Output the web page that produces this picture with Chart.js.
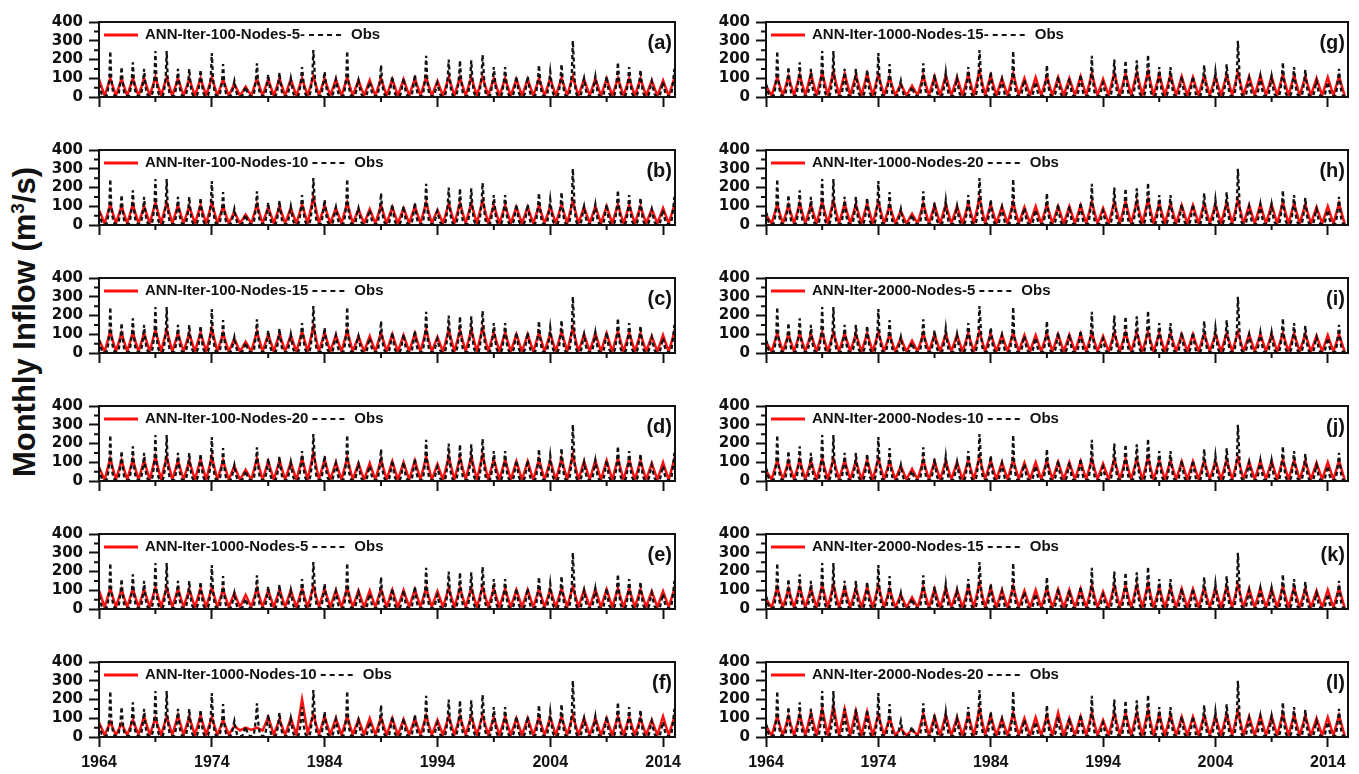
<!DOCTYPE html>
<html>
<head>
<meta charset="utf-8">
<script src="https://cdn.jsdelivr.net/npm/chart.js@4.4.1/dist/chart.umd.min.js"></script>
<style>
  html, body { margin: 0; padding: 0; background: #fff; }
  #page { position: relative; width: 1359px; height: 774px; overflow: hidden; }
  .panel { position: absolute; }
  #ytitle {
    position: absolute; left: 25px; top: 322px;
    transform: translate(-50%, -50%) rotate(-90deg);
    font: bold 31px "Liberation Sans", Arial, sans-serif;
    white-space: nowrap; color: #111;
  }
  #ytitle sup { font-size: 19px; }
</style>
</head>
<body>
<div id="page">
  <div id="ytitle">Monthly Inflow (m<sup>3</sup>/s)</div>
</div>
<script>
// tick labels / axis values
const tickYears = [1964, 1974, 1984, 1994, 2004, 2014];
const minorTickYears = [1969, 1979, 1989, 1999, 2009];
const minorTickFlows = [50, 150, 250, 350];

// observed monthly inflow, Jan 1964 .. Oct 2015 (one row per year)
const obsFlow = [
  70, 55, 30, 14, 8, 5, 4, 4, 7, 20, 55, 105,
  245, 110, 55, 25, 12, 7, 5, 5, 8, 22, 50, 90,
  160, 95, 45, 20, 10, 6, 5, 5, 9, 25, 60, 100,
  185, 100, 50, 22, 11, 6, 5, 5, 8, 20, 48, 88,
  150, 85, 42, 18, 9, 6, 4, 4, 8, 24, 62, 110,
  245, 115, 55, 24, 12, 7, 5, 5, 9, 26, 64, 112,
  245, 110, 52, 22, 11, 6, 5, 5, 8, 20, 48, 88,
  150, 90, 45, 20, 10, 6, 5, 5, 8, 20, 46, 86,
  150, 88, 44, 20, 10, 6, 4, 4, 8, 20, 46, 85,
  145, 95, 48, 22, 10, 6, 5, 5, 9, 26, 65, 115,
  235, 125, 60, 26, 12, 7, 5, 5, 8, 24, 55, 98,
  175, 95, 46, 20, 10, 6, 4, 4, 7, 16, 36, 62,
  85, 55, 30, 14, 8, 5, 4, 4, 6, 12, 26, 42,
  55, 38, 22, 12, 7, 5, 4, 4, 7, 22, 58, 100,
  180, 100, 48, 22, 10, 6, 5, 5, 8, 20, 45, 80,
  120, 80, 40, 18, 9, 5, 4, 4, 8, 20, 48, 84,
  130, 82, 42, 19, 9, 6, 4, 4, 7, 18, 40, 72,
  100, 70, 36, 16, 8, 5, 4, 4, 8, 22, 55, 96,
  160, 110, 55, 24, 11, 6, 5, 5, 9, 28, 70, 120,
  250, 170, 80, 32, 14, 8, 5, 5, 8, 22, 52, 95,
  135, 90, 45, 20, 10, 6, 4, 4, 7, 18, 42, 74,
  95, 65, 34, 16, 8, 5, 4, 4, 8, 24, 62, 110,
  245, 105, 50, 22, 10, 6, 4, 4, 7, 18, 42, 72,
  90, 62, 32, 15, 8, 5, 4, 4, 7, 16, 38, 66,
  80, 58, 30, 14, 7, 5, 4, 4, 8, 22, 55, 96,
  170, 98, 48, 21, 10, 6, 4, 4, 7, 18, 44, 78,
  110, 72, 36, 16, 8, 5, 4, 4, 7, 18, 42, 74,
  100, 68, 34, 16, 8, 5, 4, 4, 7, 18, 44, 80,
  120, 80, 40, 18, 9, 5, 4, 4, 8, 24, 62, 112,
  220, 110, 52, 22, 10, 6, 4, 4, 7, 16, 36, 62,
  75, 52, 28, 14, 7, 5, 4, 4, 8, 24, 62, 108,
  200, 115, 55, 24, 11, 6, 5, 5, 9, 26, 64, 110,
  195, 112, 54, 23, 11, 6, 5, 5, 9, 26, 64, 110,
  195, 112, 54, 23, 11, 6, 5, 5, 9, 28, 70, 118,
  225, 150, 70, 28, 12, 7, 5, 5, 9, 24, 58, 100,
  160, 105, 50, 22, 10, 6, 4, 4, 8, 24, 58, 100,
  160, 100, 48, 21, 10, 6, 4, 4, 7, 18, 44, 80,
  110, 75, 38, 17, 8, 5, 4, 4, 7, 18, 44, 80,
  110, 76, 38, 17, 8, 5, 4, 4, 8, 22, 56, 98,
  170, 105, 50, 22, 10, 6, 4, 4, 8, 20, 50, 88,
  135, 90, 45, 20, 9, 5, 4, 4, 8, 22, 56, 98,
  175, 110, 52, 22, 10, 6, 5, 5, 9, 30, 75, 130,
  300, 200, 90, 35, 14, 8, 5, 5, 8, 18, 44, 78,
  100, 70, 36, 16, 8, 5, 4, 4, 7, 18, 44, 80,
  110, 74, 37, 17, 8, 5, 4, 4, 7, 18, 44, 80,
  110, 74, 37, 17, 8, 5, 4, 4, 8, 24, 60, 104,
  185, 110, 52, 22, 10, 6, 4, 4, 8, 22, 56, 98,
  160, 100, 48, 21, 10, 6, 4, 4, 8, 22, 54, 94,
  145, 92, 45, 20, 9, 5, 4, 4, 7, 16, 38, 66,
  85, 60, 32, 15, 7, 5, 4, 4, 7, 16, 36, 62,
  80, 56, 30, 14, 7, 5, 4, 4, 8, 22, 56, 98,
  150, 92, 45, 20, 9, 5, 4, 4, 7, 16
];

// simulated inflow: annual peak (Jan) and low (Jul), 1964 .. 2015
const simIter100Nodes5 = [
  95,6, 100,6, 98,6, 100,6, 100,7, 105,7, 105,6, 100,6, 98,6, 100,7,
  105,6, 95,6, 70,6, 55,6, 100,6, 95,6, 100,6, 95,6, 100,7, 110,7,
  100,6, 95,6, 105,6, 90,6, 90,6, 100,6, 95,6, 95,6, 100,7, 105,6,
  85,6, 105,7, 105,7, 105,7, 108,7, 100,6, 100,6, 95,6, 95,6, 100,6,
  100,6, 102,7, 110,6, 95,6, 98,6, 98,6, 100,6, 100,6, 98,6, 88,6,
  88,6, 100,6
];
const simIter100Nodes10 = [
  80,8, 110,8, 100,8, 110,8, 100,8, 120,9, 120,8, 105,8, 100,8, 105,8,
  120,8, 100,8, 70,8, 55,8, 110,8, 95,8, 100,8, 90,8, 110,9, 150,9,
  105,8, 90,8, 120,8, 85,8, 85,8, 105,8, 95,8, 90,8, 100,8, 120,8,
  80,8, 115,9, 115,9, 115,9, 130,9, 105,8, 105,8, 95,8, 95,8, 105,8,
  100,8, 110,8, 130,8, 95,8, 100,8, 100,8, 110,8, 105,8, 100,8, 85,8,
  90,8, 105,8
];
const simIter100Nodes15 = [
  70,7, 115,7, 105,7, 110,7, 105,7, 125,8, 125,7, 105,7, 105,7, 110,7,
  130,7, 105,7, 75,7, 60,7, 115,7, 100,7, 105,7, 95,7, 115,8, 140,8,
  110,7, 95,7, 120,7, 90,7, 90,7, 110,7, 100,7, 95,7, 105,7, 125,7,
  85,7, 125,8, 120,8, 125,8, 135,8, 110,7, 110,7, 100,7, 100,7, 110,7,
  105,7, 115,7, 135,7, 100,7, 105,7, 105,7, 115,7, 110,7, 105,7, 90,7,
  95,7, 110,7
];
const simIter100Nodes20 = [
  75,6, 120,6, 110,6, 115,6, 110,6, 130,7, 130,6, 110,6, 110,6, 115,6,
  130,6, 110,6, 80,6, 60,6, 120,6, 105,6, 110,6, 100,6, 120,7, 150,7,
  115,6, 100,6, 125,6, 95,6, 95,6, 115,6, 105,6, 100,6, 110,6, 130,6,
  90,6, 130,7, 125,7, 130,7, 140,7, 115,6, 115,6, 105,6, 105,6, 115,6,
  110,6, 120,6, 140,6, 105,6, 110,6, 110,6, 120,6, 115,6, 110,6, 95,6,
  100,6, 115,6
];
const simIter1000Nodes5 = [
  100,10, 110,10, 105,10, 108,10, 105,10, 115,11, 115,10, 108,10, 105,10, 108,10,
  115,10, 105,10, 85,10, 75,10, 110,10, 100,10, 105,10, 100,10, 108,10, 120,11,
  108,10, 100,10, 112,10, 98,10, 98,10, 108,10, 102,10, 100,10, 105,10, 112,10,
  95,10, 112,10, 112,10, 112,10, 118,11, 108,10, 108,10, 102,10, 102,10, 108,10,
  105,10, 110,10, 120,10, 102,10, 105,10, 105,10, 110,10, 108,10, 105,10, 95,10,
  95,10, 105,10
];
const simIter1000Nodes10 = [
  77,10, 80,10, 72,10, 90,12, 110,12, 100,10, 110,10, 115,10, 108,10, 115,12,
  105,10, 90,12, 60,35, 50,38, 50,35, 105,12, 95,10, 100,12, 200,20, 120,12,
  110,12, 100,10, 110,12, 95,12, 100,12, 105,10, 100,10, 95,10, 100,10, 115,10,
  90,10, 110,12, 110,12, 112,12, 115,12, 105,10, 108,10, 100,10, 100,10, 105,10,
  105,10, 110,10, 115,10, 100,10, 100,10, 100,10, 110,12, 105,10, 100,10, 90,10,
  110,10, 105,10
];
const simIter1000Nodes15 = [
  60,8, 105,8, 110,8, 120,8, 125,8, 130,9, 135,8, 125,8, 120,8, 125,8,
  120,8, 105,8, 70,8, 60,8, 115,8, 110,8, 115,8, 105,8, 120,9, 140,9,
  115,8, 100,8, 125,8, 100,8, 105,8, 110,8, 105,8, 100,8, 110,8, 125,8,
  95,8, 130,9, 125,9, 130,9, 135,9, 120,8, 120,8, 110,8, 105,8, 115,8,
  110,8, 120,8, 130,8, 110,8, 115,8, 110,8, 120,8, 115,8, 110,8, 100,8,
  105,8, 110,8
];
const simIter1000Nodes20 = [
  55,7, 110,7, 105,7, 115,7, 110,7, 125,8, 130,7, 115,7, 110,7, 115,7,
  125,7, 105,7, 75,7, 60,7, 115,7, 105,7, 110,7, 100,7, 115,8, 145,8,
  110,7, 100,7, 120,7, 95,7, 100,7, 110,7, 100,7, 100,7, 105,7, 125,7,
  90,7, 125,8, 125,8, 125,8, 135,8, 115,7, 115,7, 105,7, 105,7, 115,7,
  110,7, 120,7, 135,7, 105,7, 110,7, 110,7, 120,7, 115,7, 110,7, 95,7,
  100,7, 115,7
];
const simIter2000Nodes5 = [
  60,7, 105,7, 100,7, 105,7, 102,7, 110,7, 110,7, 105,7, 102,7, 105,7,
  110,7, 100,7, 80,7, 65,7, 105,7, 100,7, 102,7, 98,7, 105,7, 115,7,
  105,7, 98,7, 108,7, 95,7, 95,7, 105,7, 100,7, 98,7, 102,7, 108,7,
  90,7, 108,7, 108,7, 108,7, 112,7, 105,7, 105,7, 100,7, 100,7, 105,7,
  102,7, 106,7, 112,7, 100,7, 102,7, 102,7, 105,7, 104,7, 102,7, 92,7,
  95,7, 100,7
];
const simIter2000Nodes10 = [
  55,8, 110,8, 105,8, 112,8, 108,8, 118,8, 120,8, 110,8, 108,8, 112,8,
  120,8, 105,8, 80,8, 65,8, 112,8, 105,8, 108,8, 100,8, 112,8, 130,8,
  110,8, 100,8, 115,8, 98,8, 100,8, 110,8, 102,8, 100,8, 105,8, 118,8,
  92,8, 118,8, 118,8, 118,8, 125,8, 110,8, 110,8, 104,8, 104,8, 110,8,
  108,8, 114,8, 125,8, 104,8, 108,8, 108,8, 115,8, 112,8, 108,8, 96,8,
  100,8, 108,8
];
const simIter2000Nodes15 = [
  55,7, 115,7, 108,7, 118,7, 112,7, 128,8, 130,7, 115,7, 112,7, 118,7,
  128,7, 108,7, 78,7, 62,7, 118,7, 108,7, 112,7, 102,7, 118,8, 140,8,
  115,7, 102,7, 122,7, 98,7, 102,7, 112,7, 105,7, 102,7, 108,7, 125,7,
  92,7, 128,8, 125,8, 128,8, 135,8, 115,7, 115,7, 108,7, 106,7, 115,7,
  112,7, 120,7, 132,7, 108,7, 112,7, 110,7, 120,7, 116,7, 110,7, 98,7,
  102,7, 112,7
];
const simIter2000Nodes20 = [
  60,8, 110,8, 110,8, 120,8, 130,8, 150,10, 165,10, 150,10, 140,8, 135,8,
  120,8, 100,8, 45,8, 40,8, 125,8, 110,8, 120,8, 105,8, 120,8, 150,10,
  115,8, 100,8, 130,8, 100,8, 105,8, 115,8, 130,8, 100,8, 110,8, 130,8,
  90,8, 130,8, 130,8, 130,8, 140,8, 120,8, 118,8, 108,8, 108,8, 118,8,
  112,8, 125,8, 140,8, 110,8, 115,8, 112,8, 125,8, 120,8, 115,8, 100,8,
  105,8, 115,8
];

const panels = [
  { letter: 'a', label: 'ANN-Iter-100-Nodes-5-', sim: simIter100Nodes5, col: 0, row: 0 },
  { letter: 'b', label: 'ANN-Iter-100-Nodes-10', sim: simIter100Nodes10, col: 0, row: 1 },
  { letter: 'c', label: 'ANN-Iter-100-Nodes-15', sim: simIter100Nodes15, col: 0, row: 2 },
  { letter: 'd', label: 'ANN-Iter-100-Nodes-20', sim: simIter100Nodes20, col: 0, row: 3 },
  { letter: 'e', label: 'ANN-Iter-1000-Nodes-5', sim: simIter1000Nodes5, col: 0, row: 4 },
  { letter: 'f', label: 'ANN-Iter-1000-Nodes-10', sim: simIter1000Nodes10, col: 0, row: 5 },
  { letter: 'g', label: 'ANN-Iter-1000-Nodes-15-', sim: simIter1000Nodes15, col: 1, row: 0 },
  { letter: 'h', label: 'ANN-Iter-1000-Nodes-20', sim: simIter1000Nodes20, col: 1, row: 1 },
  { letter: 'i', label: 'ANN-Iter-2000-Nodes-5', sim: simIter2000Nodes5, col: 1, row: 2 },
  { letter: 'j', label: 'ANN-Iter-2000-Nodes-10', sim: simIter2000Nodes10, col: 1, row: 3 },
  { letter: 'k', label: 'ANN-Iter-2000-Nodes-15', sim: simIter2000Nodes15, col: 1, row: 4 },
  { letter: 'l', label: 'ANN-Iter-2000-Nodes-20', sim: simIter2000Nodes20, col: 1, row: 5 }
];

const colLeft = [40, 707];
const colWidth = [655, 661];
const colMaxYear = [2015.06, 2015.8];
const rowTop = [7, 135, 263, 391, 519, 647];
const simColor = '#ff1010';
const inkColor = '#111';
const arialBold = '"Liberation Sans", Arial, sans-serif';

const obsPoints = obsFlow.map((v, i) => ({ x: 1964 + i / 12, y: v }));
function simPoints(arr) {
    return arr.map((v, i) => ({ x: 1964 + i / 2, y: v }));
}

// frame, minor ticks, in-plot legend and panel letter
const panelDecor = {
    id: 'panelDecor',
    afterDraw(chart, args, opts) {
        const ctx = chart.ctx;
        const a = chart.chartArea;
        const x = chart.scales.x;
        const y = chart.scales.y;
        ctx.save();
        ctx.strokeStyle = inkColor;
        ctx.lineWidth = 2;
        ctx.beginPath();
        minorTickFlows.forEach(v => {
            const py = y.getPixelForValue(v);
            ctx.moveTo(a.left - 5, py);
            ctx.lineTo(a.left, py);
        });
        minorTickYears.forEach(v => {
            const px = x.getPixelForValue(v);
            ctx.moveTo(px, a.bottom);
            ctx.lineTo(px, a.bottom + 5);
        });
        ctx.stroke();
        ctx.strokeRect(a.left, a.top, a.right - a.left, a.bottom - a.top);

        // legend
        const ly = a.top + 13;
        const simLabel = chart.data.datasets[1].label;
        ctx.font = 'bold 15px ' + arialBold;
        ctx.textBaseline = 'middle';
        ctx.fillStyle = inkColor;
        ctx.strokeStyle = simColor;
        ctx.lineWidth = 3;
        ctx.beginPath();
        ctx.moveTo(a.left + 5, ly);
        ctx.lineTo(a.left + 39, ly);
        ctx.stroke();
        let tx = a.left + 46;
        ctx.fillText(simLabel, tx, ly);
        tx += ctx.measureText(simLabel).width + 4;
        ctx.setLineDash([5, 4]);
        ctx.strokeStyle = inkColor;
        ctx.lineWidth = 2;
        ctx.beginPath();
        ctx.moveTo(tx, ly);
        ctx.lineTo(tx + 36, ly);
        ctx.stroke();
        ctx.setLineDash([]);
        ctx.fillText(chart.data.datasets[0].label, tx + 42, ly);

        ctx.font = 'bold 20px ' + arialBold;
        ctx.textAlign = 'right';
        ctx.fillText('(' + opts.letter + ')', a.right - 3, a.top + 21);
        ctx.restore();
    }
};

const page = document.getElementById('page');

panels.forEach(p => {
    const box = document.createElement('div');
    box.className = 'panel';
    box.style.left = colLeft[p.col] + 'px';
    box.style.top = rowTop[p.row] + 'px';
    box.style.width = colWidth[p.col] + 'px';
    box.style.height = '127px';
    const canvas = document.createElement('canvas');
    box.appendChild(canvas);
    page.appendChild(box);

    const showYears = p.row === 5;

    new Chart(canvas.getContext('2d'), {
        type: 'line',
        data: {
            datasets: [{
                label: 'Obs',
                data: obsPoints,
                borderColor: inkColor,
                borderWidth: 2.3,
                borderDash: [4, 3],
                pointRadius: 0,
                tension: 0,
                order: 0
            }, {
                label: p.label,
                data: simPoints(p.sim),
                borderColor: simColor,
                borderWidth: 2.5,
                pointRadius: 0,
                tension: 0,
                order: 1
            }]
        },
        options: {
            responsive: true,
            maintainAspectRatio: false,
            animation: false,
            events: [],
            layout: { padding: { top: 10, right: 20, left: 0, bottom: 0 } },
            plugins: {
                legend: { display: false },
                tooltip: { enabled: false },
                panelDecor: { letter: p.letter }
            },
            scales: {
                x: {
                    type: 'linear',
                    min: 1964,
                    max: colMaxYear[p.col],
                    afterBuildTicks: s => { s.ticks = tickYears.map(v => ({ value: v })); },
                    afterFit: s => { s.height = 37; },
                    border: { display: false },
                    grid: { drawOnChartArea: false, tickLength: 10, tickWidth: 2, tickColor: inkColor },
                    ticks: {
                        autoSkip: false,
                        maxRotation: 0,
                        padding: 6,
                        color: inkColor,
                        font: { family: arialBold, size: 16, weight: 'bold' },
                        callback: v => showYears ? String(v) : ''
                    }
                },
                y: {
                    min: 0,
                    max: 400,
                    afterFit: s => { s.width = 59; },
                    border: { display: false },
                    grid: { drawOnChartArea: false, tickLength: 10, tickWidth: 2, tickColor: inkColor },
                    ticks: {
                        stepSize: 100,
                        autoSkip: false,
                        padding: 6,
                        color: inkColor,
                        font: { family: '"DejaVu Sans", sans-serif', size: 15, weight: 'bold' }
                    }
                }
            }
        },
        plugins: [panelDecor]
    });
});
</script>
</body>
</html>
